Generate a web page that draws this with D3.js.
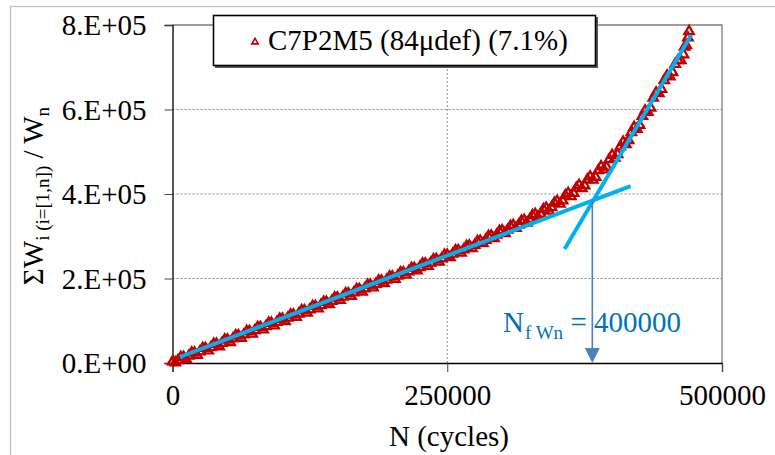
<!DOCTYPE html>
<html>
<head>
<meta charset="utf-8">
<script src="https://cdn.jsdelivr.net/npm/d3@7"></script>
<style>
  html, body { margin: 0; padding: 0; background: #fff; }
  svg { display: block; }
  text { font-family: "Liberation Serif", "Times New Roman", serif; }
</style>
</head>
<body>
<svg id="chart" width="775" height="455"></svg>
<script>
// ---- data ----
const cycles = [
  0, 5000, 10000, 15000, 20000, 25000, 30000, 35000, 40000, 45000,
  50000, 55000, 60000, 65000, 70000, 75000, 80000, 85000, 90000, 95000,
  100000, 105000, 110000, 115000, 120000, 125000, 130000, 135000, 140000, 145000,
  150000, 155000, 160000, 165000, 170000, 175000, 180000, 185000, 190000, 195000,
  200000, 205000, 210000, 215000, 220000, 225000, 230000, 235000, 240000, 245000,
  250000, 255000, 260000, 265000, 270000, 275000, 280000, 285000, 290000, 295000,
  300000, 305000, 310000, 315000, 320000, 325000, 330000, 335000, 340000, 345000,
  350000, 355000, 360000, 365000, 370000, 375000, 380000, 385000, 390000, 395000,
  400000, 405000, 410000, 415000, 420000, 425000, 430000, 435000, 440000, 445000,
  450000, 455000, 460000, 465000, 467500, 469000, 470000
];
const wsumRatio = [
  3000, 6000, 14000, 17000, 24500, 27000, 35000, 37000, 45000, 47000,
  55000, 57500, 65000, 67000, 75000, 77000, 85000, 86500, 94500, 96500,
  104500, 106500, 114500, 116500, 124500, 126000, 134500, 136500, 144500, 146500,
  154500, 156500, 164500, 166500, 174500, 176000, 184500, 186500, 194500, 196500,
  204500, 206000, 214500, 216500, 224500, 226500, 235000, 237000, 245500, 247000,
  255500, 258000, 266500, 268000, 277500, 279000, 289000, 291000, 301000, 303000,
  313500, 315000, 326000, 327000, 338000, 339000, 352000, 353000, 367000, 368000,
  383000, 384000, 402000, 402000, 421000, 420000, 441000, 440000, 465000, 464000,
  492000, 494000, 523000, 527000, 558000, 563000, 597000, 604000, 640000, 648000,
  680000, 688000, 716000, 730000, 752000, 770000, 785000
];
// second pass of readings (the band is dense: readings between the ones above)
const cyclesB = [
  2500, 7500, 12500, 17500, 22500, 27500, 32500, 37500, 42500, 47500,
  52500, 57500, 62500, 67500, 72500, 77500, 82500, 87500, 92500, 97500,
  102500, 107500, 112500, 117500, 122500, 127500, 132500, 137500, 142500, 147500,
  152500, 157500, 162500, 167500, 172500, 177500, 182500, 187500, 192500, 197500,
  202500, 207500, 212500, 217500, 222500, 227500, 232500, 237500, 242500, 247500,
  252500, 257500, 262500, 267500, 272500, 277500, 282500, 287500, 292500, 297500,
  302500, 307500, 312500, 317500, 322500, 327500, 332500, 337500, 342500, 347500,
  352500, 357500, 362500, 367500, 372500, 377500, 382500, 387500, 392500, 397500,
  402500, 407500, 412500, 417500, 422500, 427500, 432500, 437500, 442500, 447500,
  452500, 457500, 462500, 466000
];
const wsumRatioB = [
  1000, 13500, 8500, 24500, 18500, 35000, 29000, 45000, 39000, 55000,
  49000, 65000, 59000, 75000, 69000, 85000, 78800, 94500, 88500, 104500,
  98500, 114500, 108500, 124500, 118500, 134500, 128500, 144500, 138500, 154500,
  148500, 164500, 158500, 174500, 168500, 184500, 178500, 194500, 188500, 204500,
  198500, 214500, 208500, 224500, 218800, 235000, 229000, 245200, 239500, 255500,
  249700, 266200, 260500, 276700, 271200, 288000, 283000, 300000, 295000, 312000,
  307000, 324000, 319000, 336000, 331500, 349500, 345500, 363500, 360000, 379000,
  376500, 396500, 394500, 414500, 413000, 434000, 433500, 456000, 457500, 482000,
  485500, 512000, 517500, 546000, 553500, 584000, 594000, 627500, 638000, 669000,
  678000, 707500, 716500, 748000
];
const seriesName = "C7P2M5 (84\u03bcdef) (7.1%)";

// fitted straight lines (end points)
const fit1Cycles = [6800, 416800];
const fit1Values = [14200, 418900];
const fit2Cycles = [356800, 472000];
const fit2Values = [269800, 776300];

// annotation
const nfCycles = 382000;
const nfValue = 385800;
const nfLabel = "400000";

const xTicks = [0, 250000, 500000];
const yTicks = [0, 200000, 400000, 600000, 800000];

// ---- drawing ----
const svg = d3.select("#chart");
const x = d3.scaleLinear().domain([0, 500000]).range([172.5, 722]);
const y = d3.scaleLinear().domain([0, 800000]).range([363, 25]);

// outer chart border
svg.append("rect").attr("x", 10.5).attr("y", 6.5).attr("width", 800).attr("height", 500)
  .attr("fill", "#fff").attr("stroke", "#bdbdbd").attr("stroke-width", 1.2);

// gridlines
svg.append("g").selectAll("line").data(yTicks.filter(d => d > 0 && d < 800000)).join("line")
  .attr("x1", x(0)).attr("x2", x(500000)).attr("y1", d => y(d)).attr("y2", d => y(d))
  .attr("stroke", "#8c8c8c").attr("stroke-width", 1).attr("stroke-dasharray", "2,2");
svg.append("g").selectAll("line").data(xTicks.filter(d => d > 0 && d < 500000)).join("line")
  .attr("x1", d => x(d)).attr("x2", d => x(d)).attr("y1", y(0)).attr("y2", y(800000))
  .attr("stroke", "#8c8c8c").attr("stroke-width", 1).attr("stroke-dasharray", "2,2");

// plot top / right border
svg.append("path")
  .attr("d", `M${x(0)},${y(800000)}H${x(500000)}V${y(0)}`)
  .attr("fill", "none").attr("stroke", "#7f7f7f").attr("stroke-width", 1.3);

// axes
const xAxis = svg.append("g").attr("transform", `translate(0,${y(0)})`)
  .call(d3.axisBottom(x).tickValues(xTicks).tickSize(9).tickPadding(12).tickFormat(d3.format("d")));
const yAxis = svg.append("g").attr("transform", `translate(${x(0)},0)`)
  .call(d3.axisLeft(y).tickValues(yTicks).tickSize(8).tickPadding(18)
    .tickFormat(d => (d / 100000).toFixed(0) + ".E+0" + (d === 0 ? "0" : "5")));
[xAxis, yAxis].forEach(g => {
  g.select(".domain").attr("stroke", "#000").attr("stroke-width", 1.3);
  g.selectAll(".tick line").attr("stroke", "#444").attr("stroke-width", 1);
  g.selectAll(".tick text").attr("fill", "#000").style("font-size", "29px")
    .style("font-family", "'Liberation Serif', serif");
});
yAxis.selectAll(".tick text").attr("dy", "0.33em");
xAxis.selectAll(".tick text").attr("dy", "0.72em");

// data markers
const tri = d3.symbol().type(d3.symbolTriangle).size(38);
const pts = cycles.map((c, i) => [c, wsumRatio[i]])
  .concat(cyclesB.map((c, i) => [c, wsumRatioB[i]]));
svg.append("g").selectAll("path").data(pts).join("path")
  .attr("d", tri)
  .attr("transform", d => `translate(${x(d[0])},${y(d[1])})`)
  .attr("fill", "none").attr("stroke", "#C00000").attr("stroke-width", 2.3);

// fitted lines
const line = d3.line().x(d => x(d[0])).y(d => y(d[1]));
[[fit1Cycles, fit1Values], [fit2Cycles, fit2Values]].forEach(([cs, vs]) => {
  svg.append("path").datum(cs.map((c, i) => [c, vs[i]]))
    .attr("d", line).attr("fill", "none").attr("stroke", "#00B0F0")
    .attr("stroke-width", 4).attr("stroke-linecap", "butt");
});

// arrow
const ax = x(nfCycles);
svg.append("line").attr("x1", ax).attr("x2", ax).attr("y1", y(nfValue)).attr("y2", y(0) - 14)
  .attr("stroke", "#4F81BD").attr("stroke-width", 1.6);
svg.append("path")
  .attr("d", `M${ax - 7.5},${y(0) - 15}L${ax + 7.5},${y(0) - 15}L${ax},${y(0)}Z`)
  .attr("fill", "#4F81BD");

// annotation text
const ann = svg.append("text").attr("x", 503).attr("y", 332).attr("fill", "#0070C0")
  .style("font-size", "29px");
ann.append("tspan").text("N");
ann.append("tspan").attr("dx", 1).attr("dy", 7).style("font-size", "19px").text("f Wn");
ann.append("tspan").attr("dy", -7).text(" = " + nfLabel);

// axis titles
svg.append("text").attr("x", 449).attr("y", 446).attr("text-anchor", "middle")
  .style("font-size", "29px").attr("fill", "#000").text("N (cycles)");

const yt = svg.append("text").attr("transform", "translate(43,196) rotate(-90)")
  .attr("text-anchor", "middle").style("font-size", "29px").attr("fill", "#000");
yt.append("tspan").text("\u03a3W");
yt.append("tspan").attr("dy", 6).style("font-size", "19px").text("i (i=[1,n])");
yt.append("tspan").attr("dy", -6).text(" / W");
yt.append("tspan").attr("dy", 6).style("font-size", "19px").text("n");

// legend
const lg = svg.append("g");
lg.append("rect").attr("x", 215).attr("y", 17).attr("width", 383).attr("height", 51).attr("fill", "#555");
lg.append("rect").attr("x", 213.5).attr("y", 15.5).attr("width", 382).attr("height", 50)
  .attr("fill", "#fff").attr("stroke", "#000").attr("stroke-width", 1.6);
lg.append("path").attr("d", d3.symbol().type(d3.symbolTriangle).size(18))
  .attr("transform", "translate(255,42)")
  .attr("fill", "none").attr("stroke", "#C00000").attr("stroke-width", 1.6);
lg.append("text").attr("x", 268).attr("y", 50).style("font-size", "29px").attr("fill", "#000")
  .text(seriesName);
</script>
</body>
</html>
